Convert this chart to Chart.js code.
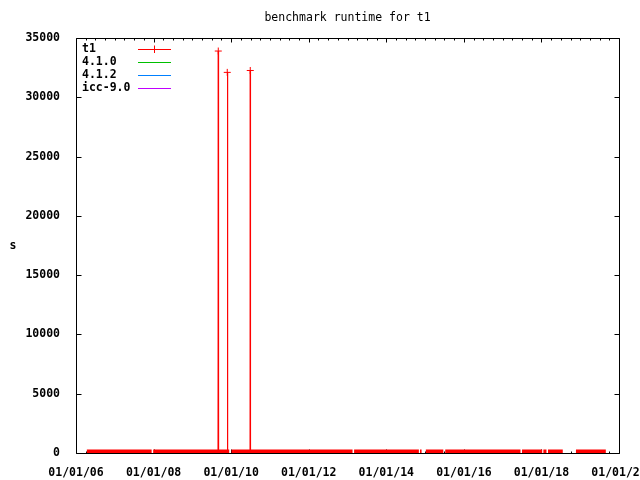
<!DOCTYPE html>
<html>
<head>
<meta charset="utf-8">
<script src="https://cdn.jsdelivr.net/npm/chart.js@4"></script>
<style>
  html, body { margin:0; background:#fff; }
  #wrap { width:640px; height:480px; }
</style>
</head>
<body>
<div id="wrap"><canvas id="chart-t1"></canvas></div>
<script>
// Dados (x em anos fracionários, y em segundos)
const titulo = 'benchmark runtime for t1';
const rotuloY = 's';
const seriesNomes = ['t1', '4.1.0', '4.1.2', 'icc-9.0'];
const seriesCores = ['#ff0000', '#00c000', '#0080ff', '#c000ff'];

const anosTicks = [2006, 2008, 2010, 2012, 2014, 2016, 2018, 2020];
const valoresTicksY = [0, 5000, 10000, 15000, 20000, 25000, 30000, 35000];

// faixa de medições perto de zero (null = buraco nos dados)
const t1FaixaAnos = [2006.28, 2007.95, 2007.97, 2007.99, 2009.95, 2009.98, 2010.01, 2013.13, 2013.15,
  2013.17, 2014.84, 2014.85, 2014.87, 2014.91, 2014.96, 2015.02, 2015.47, 2015.49, 2015.52, 2017.46,
  2017.48, 2017.50, 2018.02, 2018.03, 2018.05, 2018.13, 2018.15, 2018.17, 2018.55, 2018.70, 2018.89, 2019.66];
const t1FaixaValores = [0, 0, null, 0, 0, null, 0, 0, null,
  0, 0, null, 0, 0, null, 0, 0, null, 0, 0,
  null, 0, 0, null, 0, 0, null, 0, 0, null, 0, 0];

// picos
const t1PicosAnos = [2009.660, 2009.668, 2009.676, 2009.78, 2009.895, 2009.900, 2009.918, 2010.2, 2010.486, 2010.493, 2010.500];
const t1PicosValores = [0, 33900, 0, null, 0, 32100, 0, null, 0, 32260, 0];

const FONTE = '"DejaVu Sans Mono", monospace';

function pontos(xs, ys) {
  return xs.map((x, i) => ({ x, y: ys[i] }));
}

const moldura = {
  id: 'moldura',
  beforeDatasetsDraw(chart) {
    const { ctx, chartArea: a, scales: { x, y } } = chart;
    const L = Math.round(a.left) + 0.5, R = Math.round(a.right) + 0.5;
    const T = Math.round(a.top) + 0.5, B = Math.round(a.bottom) + 0.5;
    ctx.save();
    ctx.strokeStyle = '#000';
    ctx.lineWidth = 1;
    ctx.beginPath();
    y.ticks.forEach(t => {
      const py = Math.round(y.getPixelForValue(t.value)) + 0.5;
      ctx.moveTo(L, py); ctx.lineTo(L + 5, py);
      ctx.moveTo(R, py); ctx.lineTo(R - 5, py);
    });
    // minor ticks a cada 3 meses, major a cada 2 anos
    for (let v = x.min; v <= x.max + 1e-6; v += 0.25) {
      const px = Math.round(x.getPixelForValue(v)) + 0.5;
      const major = Math.abs(v - Math.round(v)) < 1e-6 && Math.round(v) % 2 === 0;
      const len = major ? 4 : 2;
      ctx.moveTo(px, B); ctx.lineTo(px, B - len);
      ctx.moveTo(px, T); ctx.lineTo(px, T + len);
    }
    ctx.moveTo(L, T); ctx.lineTo(R, T); ctx.lineTo(R, B); ctx.lineTo(L, B); ctx.closePath();
    ctx.stroke();
    ctx.restore();
  },
  afterDraw(chart) {
    const { ctx, chartArea: a } = chart;
    ctx.save();
    ctx.fillStyle = '#000';
    ctx.textBaseline = 'middle';
    // título
    ctx.font = '11.5px ' + FONTE;
    ctx.textAlign = 'center';
    ctx.fillText(titulo, (a.left + a.right) / 2, 18);
    // rótulo eixo y
    ctx.font = 'bold 11.5px ' + FONTE;
    ctx.fillText(rotuloY, 13, 246);
    // legenda estilo gnuplot
    ctx.textAlign = 'left';
    seriesNomes.forEach((nome, i) => {
      const yy = 49 + i * 13;
      ctx.fillStyle = '#000';
      ctx.fillText(nome, 82, yy);
      ctx.strokeStyle = seriesCores[i];
      ctx.lineWidth = 1;
      ctx.beginPath();
      ctx.moveTo(138, Math.round(yy) + 0.5); ctx.lineTo(171, Math.round(yy) + 0.5);
      if (i === 0) { ctx.moveTo(154.5, yy - 3.5); ctx.lineTo(154.5, yy + 4); }
      ctx.stroke();
    });
    ctx.restore();
  }
};

const canvas = document.getElementById('chart-t1');
new Chart(canvas, {
  type: 'line',
  data: {
    datasets: [
      {
        label: seriesNomes[0],
        data: pontos(t1FaixaAnos, t1FaixaValores),
        borderColor: seriesCores[0],
        borderWidth: 7,
        borderCapStyle: 'butt',
        pointRadius: 0,
        spanGaps: false,
        tension: 0
      },
      {
        label: seriesNomes[0] + ' picos',
        data: pontos(t1PicosAnos, t1PicosValores),
        borderColor: seriesCores[0],
        borderWidth: 1,
        pointStyle: 'cross',
        pointRotation: 0,
        pointRadius: ctx => (ctx.raw && ctx.raw.y > 0 ? 3.5 : 0),
        pointBorderColor: seriesCores[0],
        pointBorderWidth: 1,
        spanGaps: false,
        tension: 0
      },
      { label: seriesNomes[1], data: [], borderColor: seriesCores[1] },
      { label: seriesNomes[2], data: [], borderColor: seriesCores[2] },
      { label: seriesNomes[3], data: [], borderColor: seriesCores[3] }
    ]
  },
  options: {
    responsive: true, maintainAspectRatio: false,
    animation: false,
    layout: { autoPadding: false, padding: { top: 38, right: 21, left: 0, bottom: 0 } },
    plugins: { legend: { display: false }, tooltip: { enabled: false } },
    scales: {
      x: {
        type: 'linear',
        min: anosTicks[0], max: anosTicks[anosTicks.length - 1],
        afterBuildTicks: s => { s.ticks = anosTicks.map(v => ({ value: v })); },
        afterFit: s => { s.height = 27; s.paddingLeft = 0; s.paddingRight = 0; },
        grid: { display: false },
        border: { display: false },
        ticks: {
          maxRotation: 0, autoSkip: false, padding: 5, color: '#000',
          font: { family: FONTE, size: 11.5, weight: 'bold' },
          callback: v => '01/01/' + String(v % 100).padStart(2, '0')
        }
      },
      y: {
        min: valoresTicksY[0], max: valoresTicksY[valoresTicksY.length - 1],
        afterBuildTicks: s => { s.ticks = valoresTicksY.map(v => ({ value: v })); },
        afterFit: s => { s.width = 76; s.paddingTop = 0; s.paddingBottom = 0; },
        grid: { display: false },
        border: { display: false },
        ticks: {
          padding: 8, color: '#000',
          font: { family: FONTE, size: 11.5, weight: 'bold' },
          callback: v => String(v)
        }
      }
    }
  },
  plugins: [moldura]
});
</script>
</body>
</html>
